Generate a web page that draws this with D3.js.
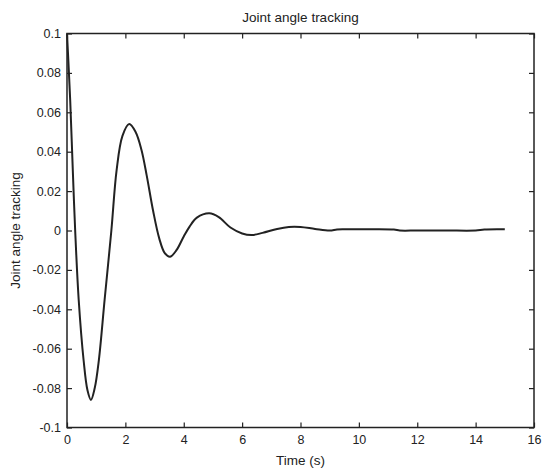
<!DOCTYPE html>
<html><head><meta charset="utf-8">
<script src="https://cdn.jsdelivr.net/npm/d3@7"></script>
<style>body{margin:0;background:#fff}svg{display:block}text{font-family:"Liberation Sans",Arial,sans-serif;fill:#222}</style>
</head><body><svg id="c" width="543" height="473"></svg>
<script>
const timeS = [0,0.05,0.11,0.2,0.28,0.4,0.57,0.7,0.82,0.95,1.09,1.29,1.52,1.7,1.9,2.13,2.35,2.55,2.73,2.95,3.16,3.35,3.53,3.75,4.0,4.2,4.45,4.875,5.2,5.6,6.0,6.33,6.7,7.2,7.6,8.0,8.5,9.0,9.25,9.5,10,11.2,11.4,12,13,14,14.3,15];
const angle = [0.1,0.085,0.066,0.03,0.0,-0.035,-0.066,-0.081,-0.086,-0.080,-0.066,-0.035,0.0,0.0307,0.048,0.054,0.050,0.041,0.028,0.010,-0.004,-0.0115,-0.0133,-0.010,-0.003,0.002,0.0065,0.0087,0.0068,0.0015,-0.0015,-0.0023,-0.0012,0.0008,0.0018,0.0018,0.0008,0.0,0.0005,0.0006,0.0006,0.0005,0.0,0.0,0.0,0.0,0.0005,0.0006];
const xTicks = [0,2,4,6,8,10,12,14,16];
const yTicks = [-0.1,-0.08,-0.06,-0.04,-0.02,0,0.02,0.04,0.06,0.08,0.1];
const yTickLabels = ["-0.1","-0.08","-0.06","-0.04","-0.02","0","0.02","0.04","0.06","0.08","0.1"];

const L=67,R=534,T=33.5,B=427.5;
const svg=d3.select("#c");
const x=d3.scaleLinear().domain([0,16]).range([L,R]);
const y=d3.scaleLinear().domain([-0.1,0.1]).range([B,T]);
const tl=5;
const gx=svg.append("g").attr("transform",`translate(0,${B})`).call(d3.axisBottom(x).tickValues(xTicks).tickSize(-tl).tickPadding(8).tickFormat(d3.format("d")));
const gxt=svg.append("g").attr("transform",`translate(0,${T})`).call(d3.axisTop(x).tickValues(xTicks).tickSize(-tl).tickFormat(""));
const gy=svg.append("g").attr("transform",`translate(${L},0)`).call(d3.axisLeft(y).tickValues(yTicks).tickSize(-tl).tickPadding(6).tickFormat((d,i)=>yTickLabels[i]));
const gyr=svg.append("g").attr("transform",`translate(${R},0)`).call(d3.axisRight(y).tickValues(yTicks).tickSize(-tl).tickFormat(""));
[gx,gxt,gy,gyr].forEach(g=>{g.select(".domain").remove();g.selectAll("line").attr("stroke","#222").attr("stroke-width",1.2);g.selectAll("text").attr("font-size",12.5).attr("fill","#222").attr("font-family","Liberation Sans, Arial, sans-serif");});
svg.append("rect").attr("x",L).attr("y",T).attr("width",R-L).attr("height",B-T).attr("fill","none").attr("stroke","#222").attr("stroke-width",1.5);
const pts=timeS.map((t,i)=>[t,angle[i]]);
svg.append("path").datum(pts).attr("fill","none").attr("stroke","#222").attr("stroke-width",2)
  .attr("d",d3.line().x(d=>x(d[0])).y(d=>y(d[1])).curve(d3.curveCatmullRom.alpha(0.5)));
svg.append("text").attr("x",(L+R)/2).attr("y",22).attr("text-anchor","middle").attr("font-size",13.5).text("Joint angle tracking");
svg.append("text").attr("x",(L+R)/2).attr("y",465).attr("text-anchor","middle").attr("font-size",13.5).text("Time (s)");
svg.append("text").attr("transform",`translate(20,${(T+B)/2}) rotate(-90)`).attr("text-anchor","middle").attr("font-size",13.5).text("Joint angle tracking");
</script></body></html>
